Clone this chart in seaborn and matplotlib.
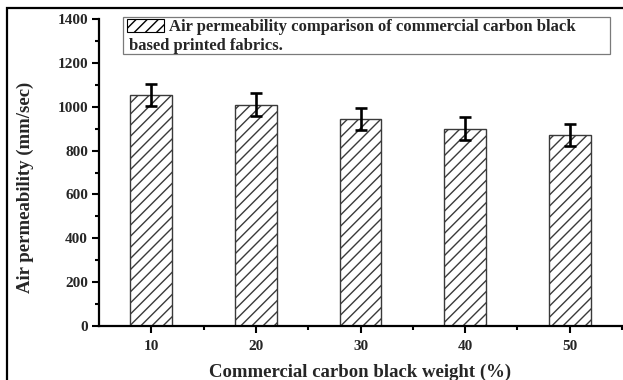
import matplotlib
matplotlib.use("Agg")
import matplotlib.pyplot as plt
from matplotlib.patches import Rectangle, Patch
from matplotlib.ticker import FixedLocator, MultipleLocator
import seaborn as sns
import pandas as pd

# ---- data ----
weights = ["10", "20", "30", "40", "50"]
air_perm = [1053, 1010, 944, 900, 872]
air_err = [51, 51, 51, 51, 51]
legend_line1 = "Air permeability comparison of commercial carbon black"
legend_line2 = "based printed fabrics."
xlabel = "Commercial carbon black weight (%)"
ylabel = "Air permeability (mm/sec)"

sns.set_theme(style="ticks")
plt.rcParams["font.family"] = ["Liberation Serif", "DejaVu Serif"]
plt.rcParams["font.weight"] = "bold"
plt.rcParams["hatch.linewidth"] = 1.0

W, H = 623, 380
fig = plt.figure(figsize=(W / 100, H / 100), dpi=100)
fig.patch.set_facecolor("white")

def fx(px):
    return px / W

def fy(py):
    return 1 - py / H

ax = fig.add_axes([fx(99), fy(326), (622 - 99) / W, (326 - 19) / H])
ax.set_facecolor("white")

df = pd.DataFrame({"weight": weights, "perm": air_perm})
sns.barplot(data=df, x="weight", y="perm", ax=ax, color="white",
            edgecolor="#3a3a3a", linewidth=1.0, hatch="///", width=0.4,
            errorbar=None, saturation=1)

centers = [p.get_x() + p.get_width() / 2 for p in ax.patches]
ax.errorbar(centers, air_perm, yerr=air_err, fmt="none", ecolor="black",
            elinewidth=1.9, capsize=4.5, capthick=1.9, zorder=5)

ax.set_xlim(-0.5, 4.5)
ax.set_ylim(0, 1400)
ax.yaxis.set_major_locator(MultipleLocator(200))
ax.yaxis.set_minor_locator(MultipleLocator(100))
ax.xaxis.set_minor_locator(FixedLocator([i + 0.5 for i in range(len(weights))]))

for s in ["top", "right"]:
    ax.spines[s].set_visible(False)
for s in ["left", "bottom"]:
    ax.spines[s].set_linewidth(1.6)
    ax.spines[s].set_color("black")

ax.tick_params(axis="both", which="major", direction="out", length=5,
               width=1.5, color="black", labelsize=11, pad=3)
ax.tick_params(axis="x", which="major", pad=5)
ax.tick_params(axis="both", which="minor", direction="out", length=3,
               width=1.5, color="black")
for lab in ax.get_xticklabels() + ax.get_yticklabels():
    lab.set_fontweight("bold")

ax.set_xlabel(xlabel, fontsize=13.5, fontweight="bold", labelpad=8)
ax.set_ylabel(ylabel, fontsize=13.5, fontweight="bold")
ax.yaxis.set_label_coords(-0.125, 0.45)

# legend
handle = Patch(facecolor="white", edgecolor="black", hatch="///", linewidth=0.8,
               label=legend_line1)
leg = ax.legend(handles=[handle], loc="upper left",
                bbox_to_anchor=(fx(127), fy(19)), bbox_transform=fig.transFigure,
                frameon=False, borderpad=0, borderaxespad=0,
                handlelength=2.2, handleheight=0.85, handletextpad=0.3,
                prop={"family": "Liberation Serif", "weight": "bold", "size": 12})
fig.text(fx(129), fy(50), legend_line2, fontsize=12, fontweight="bold",
         va="baseline", ha="left")
fig.patches.append(Rectangle((fx(122.5), fy(54)), (609.5 - 122.5) / W, (54 - 17.5) / H,
                             transform=fig.transFigure, fill=False,
                             edgecolor="#7a7a7a", linewidth=0.9))

# outer frame
fig.patches.append(Rectangle((fx(7), -0.2), 2, fy(8) + 0.2,
                             transform=fig.transFigure, fill=False,
                             edgecolor="black", linewidth=1.6, clip_on=False))

fig.savefig("out.png", dpi=100, facecolor="white")
